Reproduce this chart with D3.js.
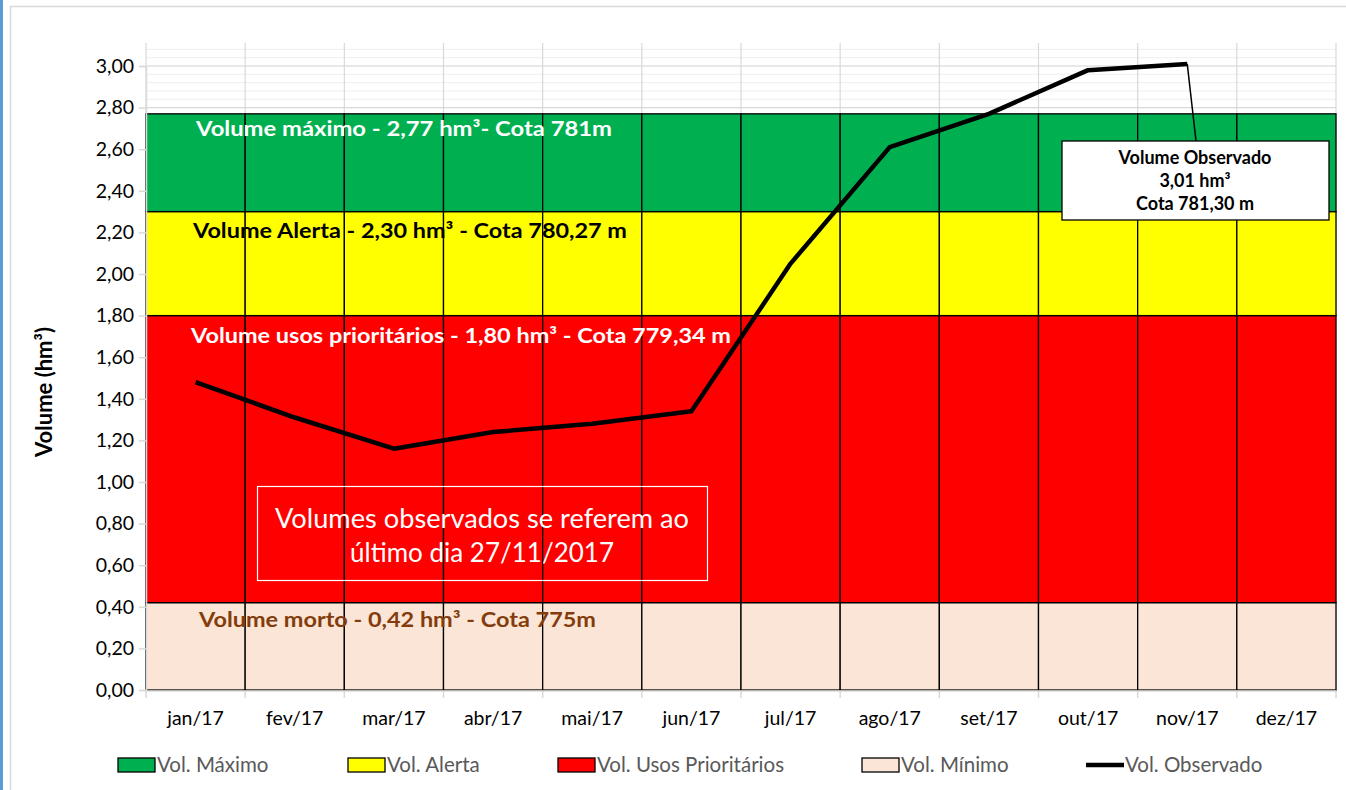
<!DOCTYPE html>
<html>
<head>
<meta charset="utf-8">
<script src="https://cdn.jsdelivr.net/npm/d3@7"></script>
<style>
  body { margin: 0; background: #fff; }
  svg { display: block; font-family: Lato, "Open Sans", sans-serif; }
</style>
</head>
<body>
<div id="vis"></div>
<script>
// months on the x axis
var months = ["jan/17", "fev/17", "mar/17", "abr/17", "mai/17", "jun/17",
              "jul/17", "ago/17", "set/17", "out/17", "nov/17", "dez/17"];

// observed volume (hm3), last day of each month
var observed = [1.48, 1.31, 1.16, 1.24, 1.28, 1.34, 2.05, 2.61, 2.77, 2.98, 3.01, null];

// reference levels (hm3), from bottom to top
var levelNames = ["Vol. Mínimo", "Vol. Usos Prioritários", "Vol. Alerta", "Vol. Máximo"];
var levelValues = [0.42, 1.80, 2.30, 2.77];
var levelColors = ["#fbe5d6", "#ff0000", "#ffff00", "#00b050"];
var levelTexts = ["Volume morto - 0,42 hm³ - Cota 775m",
                  "Volume usos prioritários - 1,80 hm³ - Cota 779,34 m",
                  "Volume Alerta - 2,30 hm³ - Cota 780,27 m",
                  "Volume máximo - 2,77 hm³- Cota 781m"];
var levelTextColors = ["#843c0c", "#fff", "#000", "#fff"];

var yTicks = [0, 0.2, 0.4, 0.6, 0.8, 1.0, 1.2, 1.4, 1.6, 1.8, 2.0, 2.2, 2.4, 2.6, 2.8, 3.0];

var W = 1346, H = 790;
var svg = d3.select("#vis").append("svg").attr("width", W).attr("height", H);

// frame bits from the surrounding page
svg.append("rect").attr("x", 0).attr("y", 0).attr("width", 3).attr("height", H).attr("fill", "#5b9bd5");
svg.append("path").attr("d", "M10.5," + H + "V6.5H" + W)
  .attr("fill", "none").attr("stroke", "#d9d9d9").attr("stroke-width", 1.5);

var x = d3.scaleBand().domain(months).range([146, 1336]).padding(0);
var y = d3.scaleLinear().domain([0, 3.0]).range([690, 66]);
var yTop = 3.11;

// minor + major gridlines (only visible above the bands)
var minor = d3.range(0, yTop, 0.04);
svg.append("g").selectAll("line").data(minor).join("line")
  .attr("x1", 146).attr("x2", 1336)
  .attr("y1", d => y(d)).attr("y2", d => y(d))
  .attr("stroke", "#eeeeee").attr("stroke-width", 1);
svg.append("g").selectAll("line").data(yTicks).join("line")
  .attr("x1", 146).attr("x2", 1336)
  .attr("y1", d => y(d)).attr("y2", d => y(d))
  .attr("stroke", "#d9d9d9").attr("stroke-width", 1.2);
svg.append("g").selectAll("line").data(months.concat([null])).join("line")
  .attr("x1", (d, i) => 146 + i * x.bandwidth()).attr("x2", (d, i) => 146 + i * x.bandwidth())
  .attr("y1", y(yTop)).attr("y2", y(0))
  .attr("stroke", "#d9d9d9").attr("stroke-width", 1.2);

// stacked bands, one cell per month
var bands = levelValues.map((v, i) => ({lo: i ? levelValues[i - 1] : 0, hi: v, color: levelColors[i]}));
var cells = [];
bands.forEach(b => months.forEach(m => cells.push({m: m, lo: b.lo, hi: b.hi, color: b.color})));
svg.append("g").selectAll("rect").data(cells).join("rect")
  .attr("x", d => x(d.m)).attr("width", x.bandwidth())
  .attr("y", d => y(d.hi)).attr("height", d => y(d.lo) - y(d.hi))
  .attr("fill", d => d.color).attr("stroke", "#000").attr("stroke-width", 1.3);

// axes
var yAxis = svg.append("g").attr("transform", "translate(146,0)")
  .call(d3.axisLeft(y).tickValues(yTicks).tickSize(7).tickPadding(5)
    .tickFormat(d => d3.format(".2f")(d).replace(".", ",")));
var xAxis = svg.append("g").attr("transform", "translate(0,691)")
  .call(d3.axisBottom(x).tickSize(0).tickPadding(20));
[yAxis, xAxis].forEach(a => {
  a.select(".domain").attr("stroke", "#d9d9d9").attr("stroke-width", 1.5);
  a.selectAll("line").attr("stroke", "#d9d9d9").attr("stroke-width", 1.5);
  a.selectAll("text").attr("fill", "#000").style("font-size", "19.5px")
    .style("font-family", "Lato, sans-serif");
});
xAxis.select(".domain").attr("d", "M146,0H1336");
svg.append("g").selectAll("line").data(months.concat([null])).join("line")
  .attr("x1", (d, i) => 146 + i * x.bandwidth()).attr("x2", (d, i) => 146 + i * x.bandwidth())
  .attr("y1", 691).attr("y2", 698).attr("stroke", "#d9d9d9").attr("stroke-width", 1.5);

svg.append("text")
  .attr("transform", "translate(52,392) rotate(-90)")
  .attr("text-anchor", "middle").attr("font-weight", "bold").attr("font-size", 22)
  .text("Volume (hm³)");

// band labels
var labelPos = [[199, 620], [191, 336], [193, 231], [196, 129]];
var labelLen = [397, 540, 434, 416];
svg.append("g").selectAll("text").data(levelTexts).join("text")
  .attr("x", (d, i) => labelPos[i][0]).attr("y", (d, i) => labelPos[i][1])
  .attr("dy", "0.35em").attr("font-weight", "bold").attr("font-size", 20)
  .attr("fill", (d, i) => levelTextColors[i])
  .attr("textLength", (d, i) => labelLen[i]).attr("lengthAdjust", "spacingAndGlyphs")
  .text(d => d);

// note box
svg.append("rect").attr("x", 257.5).attr("y", 486.5).attr("width", 450).attr("height", 94)
  .attr("fill", "none").attr("stroke", "#fff").attr("stroke-width", 1.2);
svg.append("text").attr("x", 482).attr("y", 519).attr("dy", "0.35em")
  .attr("text-anchor", "middle").attr("fill", "#fff").attr("font-size", 26)
  .attr("textLength", 414).attr("lengthAdjust", "spacingAndGlyphs")
  .text("Volumes observados se referem ao");
svg.append("text").attr("x", 482).attr("y", 553).attr("dy", "0.35em")
  .attr("text-anchor", "middle").attr("fill", "#fff").attr("font-size", 26)
  .attr("textLength", 264).attr("lengthAdjust", "spacingAndGlyphs")
  .text("último dia 27/11/2017");

// observed line
var pts = months.map((m, i) => ({m: m, v: observed[i]})).filter(d => d.v != null);
svg.append("path").datum(pts)
  .attr("fill", "none").attr("stroke", "#000").attr("stroke-width", 4.5)
  .attr("stroke-linejoin", "round")
  .attr("d", d3.line().x(d => x(d.m) + x.bandwidth() / 2).y(d => y(d.v)));

// callout for the last observed value
var last = pts[pts.length - 1];
svg.append("line")
  .attr("x1", x(last.m) + x.bandwidth() / 2).attr("y1", y(last.v))
  .attr("x2", 1196).attr("y2", 141)
  .attr("stroke", "#000").attr("stroke-width", 1.5);
svg.append("rect").attr("x", 1062).attr("y", 141).attr("width", 267).attr("height", 79)
  .attr("fill", "#fff").attr("stroke", "#000").attr("stroke-width", 1.3);
["Volume Observado", "3,01 hm³", "Cota 781,30 m"].forEach((t, i) => {
  svg.append("text").attr("x", 1195).attr("y", 158 + i * 23).attr("dy", "0.35em")
    .attr("text-anchor", "middle").attr("font-weight", "bold").attr("font-size", 18)
    .text(t);
});

// legend
var legend = [
  {name: levelNames[3], color: levelColors[3], x: 118},
  {name: levelNames[2], color: levelColors[2], x: 348},
  {name: levelNames[1], color: levelColors[1], x: 558},
  {name: levelNames[0], color: levelColors[0], x: 862},
  {name: "Vol. Observado", line: true, x: 1086}
];
var lg = svg.append("g").selectAll("g").data(legend).join("g")
  .attr("transform", d => "translate(" + d.x + ",765)");
lg.filter(d => !d.line).append("rect")
  .attr("x", 0).attr("y", -7).attr("width", 37).attr("height", 14)
  .attr("fill", d => d.color).attr("stroke", "#000").attr("stroke-width", 1.3);
lg.filter(d => d.line).append("line")
  .attr("x1", 0).attr("x2", 38).attr("y1", 0).attr("y2", 0)
  .attr("stroke", "#000").attr("stroke-width", 4.5);
lg.append("text").attr("x", 39).attr("dy", "0.35em")
  .attr("fill", "#595959").attr("font-size", 20.5).text(d => d.name);
</script>
</body>
</html>
